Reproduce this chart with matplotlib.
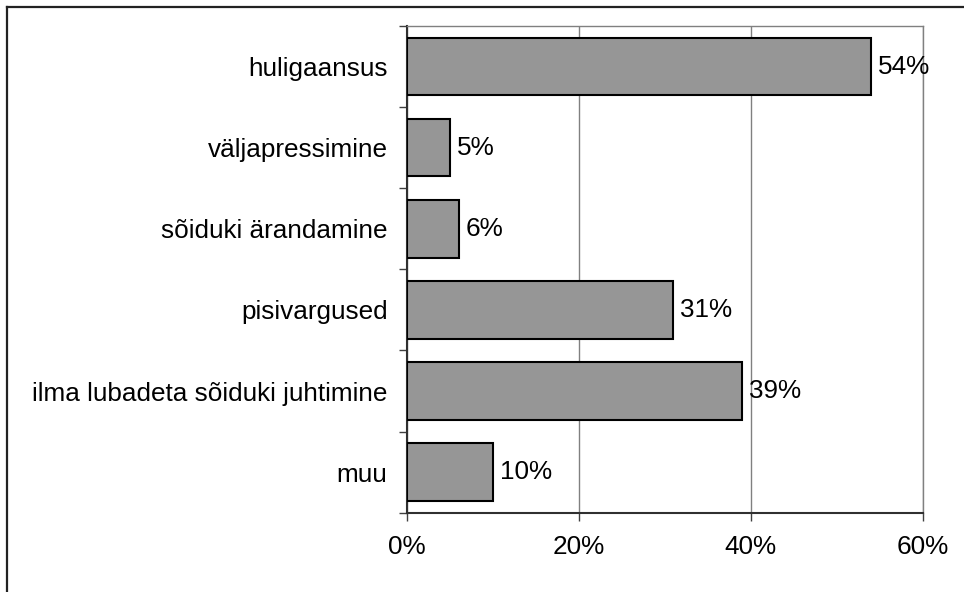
import matplotlib
matplotlib.use("Agg")
import matplotlib.pyplot as plt
from matplotlib.lines import Line2D
import numpy as np

categories = ["huligaansus", "väljapressimine", "sõiduki ärandamine",
              "pisivargused", "ilma lubadeta sõiduki juhtimine", "muu"]
values = [54, 5, 6, 31, 39, 10]
xticks = [0, 20, 40, 60]
xticklabels = ["0%", "20%", "40%", "60%"]

plt.rcParams['font.family'] = ['Liberation Sans', 'DejaVu Sans']
FS = 18.8

fig = plt.figure(figsize=(9.64, 5.92), dpi=100)
ax = fig.add_axes([407/964, 1-512.7/592, (922.7-407)/964, (512.7-26)/592])

n = len(categories)
y = np.arange(n)[::-1]
ax.barh(y, values, height=0.71, color="#969696", edgecolor="black", linewidth=1.5, zorder=3)

for yi, v in zip(y, values):
    ax.annotate(f"{v}%", (v, yi), xytext=(5, 0), textcoords="offset points",
                va="center", ha="left", fontsize=FS, zorder=4)

ax.set_xlim(0, 60)
ax.set_ylim(-0.5, n - 0.5)
ax.set_xticks(xticks)
ax.set_xticklabels(xticklabels, fontsize=FS)
ax.set_yticks(y)
ax.set_yticklabels(categories, fontsize=FS)
ax.set_yticks(np.arange(n + 1) - 0.5, minor=True)
ax.tick_params(axis="y", which="major", length=0, pad=14)
ax.tick_params(axis="y", which="minor", length=6, width=1, color="#404040", direction="out")
ax.tick_params(axis="x", which="major", length=6, width=1, color="#404040", direction="out", pad=10)

ax.grid(axis="x", color="#808080", linewidth=1, zorder=1)
for s in ["top", "right"]:
    ax.spines[s].set_color("#808080")
    ax.spines[s].set_linewidth(1)
for s in ["left", "bottom"]:
    ax.spines[s].set_color("#303030")
    ax.spines[s].set_linewidth(1.5)

# outer chart border (only top and left visible in crop)
fig.add_artist(Line2D([6.5/964, 6.5/964], [0, 1-6.5/592], color="#222222", linewidth=1.6, transform=fig.transFigure))
fig.add_artist(Line2D([6.5/964, 1], [1-6.5/592, 1-6.5/592], color="#222222", linewidth=1.6, transform=fig.transFigure))

fig.savefig("out.png", dpi=100)
